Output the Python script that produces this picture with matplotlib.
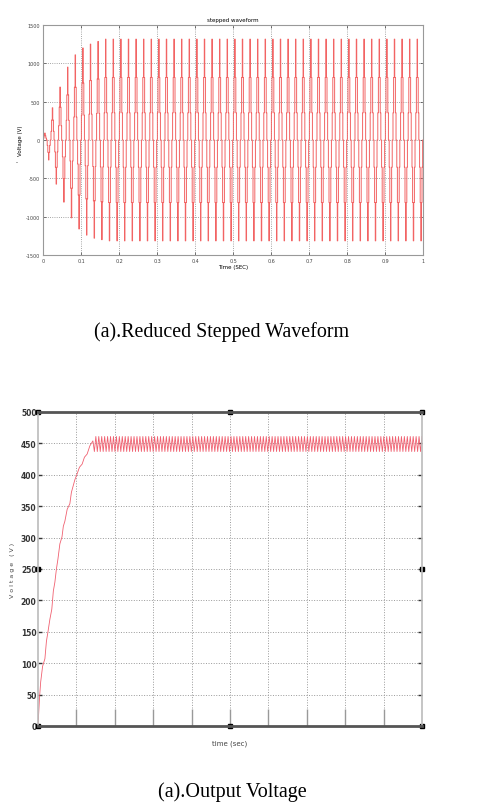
import numpy as np
import matplotlib
matplotlib.use("Agg")
import matplotlib.pyplot as plt

plt.rcParams["axes.unicode_minus"] = False

# ---- data ----
# stepped waveform: 50 Hz, amplitude of every half cycle (V)
FREQ = 50.0
AMP_START = [90, 260, 420, 575, 690, 810, 950, 1015, 1110, 1160,
             1200, 1240, 1250, 1280, 1285, 1300]
AMP_STEADY = 1315
N_HALF = 100
# shape of one half cycle: switching instants (fraction of half period) and levels (fraction of peak)
STEP_TIMES = [0.0, 0.10, 0.26, 0.44, 0.56, 0.74, 0.90]
STEP_LEVELS = [0.0, 0.27, 0.62, 1.0, 0.62, 0.27, 0.0]

top_xticks = [0, 0.1, 0.2, 0.3, 0.4, 0.5, 0.6, 0.7, 0.8, 0.9, 1]
top_xlabels = ["0", "0.1", "0.2", "0.3", "0.4", "0.5", "0.6", "0.7", "0.8", "0.9", "1"]
top_yticks = [-1500, -1000, -500, 0, 500, 1000, 1500]

# output voltage: start-up ramp (time fraction, volts) then ripple
RAMP_T = [0.0, 0.004, 0.007, 0.012, 0.018, 0.022, 0.026, 0.031, 0.036, 0.040, 0.044,
          0.048, 0.052, 0.057, 0.0625, 0.066, 0.070, 0.076, 0.083, 0.087, 0.091,
          0.096, 0.1016, 0.108, 0.115, 0.121, 0.128, 0.135, 0.143]
RAMP_V = [0, 45, 70, 95, 107, 135, 150, 170, 186, 215, 229,
          250, 266, 290, 301, 318, 326, 345, 354, 372, 381,
          392, 401, 412, 417, 428, 433, 446, 454]
RIPPLE_HIGH = 461
RIPPLE_LOW = 437
N_RIPPLE = 112
bot_yticks = [0, 50, 100, 150, 200, 250, 300, 350, 400, 450, 500]
bot_xgrid = [0.1, 0.2, 0.3, 0.4, 0.5, 0.6, 0.7, 0.8, 0.9]

fig = plt.figure(figsize=(4.79, 8.12), dpi=100)

# ---------------- top chart ----------------
ax1 = fig.add_axes([0.0898, 0.6847, 0.7933, 0.2833])
half = 0.5 / FREQ
amps = AMP_START + [AMP_STEADY] * (N_HALF - len(AMP_START))
tt, vv = [], []
for k, a in enumerate(amps):
    sgn = 1 if k % 2 == 0 else -1
    for st, lv in zip(STEP_TIMES, STEP_LEVELS):
        tt.append(k * half + st * half)
        vv.append(sgn * a * lv)
tt.append(N_HALF * half)
vv.append(0)
ax1.step(tt, vv, where="post", color="#f26464", lw=0.7)

ax1.set_xlim(0, 1)
ax1.set_ylim(-1500, 1500)
ax1.set_xticks(top_xticks)
ax1.set_xticklabels(top_xlabels)
ax1.set_yticks(top_yticks)
ax1.tick_params(direction="in", length=2, width=0.5, labelsize=3.5, pad=2,
                top=True, right=True, colors="#444444")
ax1.grid(True, ls=":", lw=0.6, color="#888888")
for s in ax1.spines.values():
    s.set_color("#999999")
    s.set_linewidth(0.8)
ax1.set_title("stepped waveform", fontsize=4, pad=3)
ax1.set_xlabel("Time (SEC)", fontsize=4, labelpad=1)
ax1.set_ylabel("Voltage (V)", fontsize=4, labelpad=2)
fig.text(0.035, 0.8, "-", fontsize=4, ha="center", va="center")

fig.text(0.462, 1 - 332 / 812, "(a).Reduced Stepped Waveform", family="Liberation Serif",
         fontsize=14.4, ha="center", va="center")

# ---------------- bottom chart ----------------
ax2 = fig.add_axes([0.0793, 0.1047, 0.8017, 0.3867])
t_end = RAMP_T[-1]
rt = np.linspace(t_end, 1.0, 2 * N_RIPPLE + 1)
rv = [RIPPLE_HIGH if i % 2 == 0 else RIPPLE_LOW for i in range(len(rt))]
ax2.plot(list(RAMP_T) + list(rt[1:]), list(RAMP_V) + rv[1:], color="#f06070", lw=0.6)

ax2.set_xlim(0, 1)
ax2.set_ylim(0, 500)
ax2.set_yticks(bot_yticks)
ax2.set_xticks(bot_xgrid)
ax2.set_xticklabels([])
ax2.tick_params(axis="y", direction="in", length=3, width=1, labelsize=5.5, pad=1,
                right=True, colors="#333333")
ax2.tick_params(axis="x", direction="in", length=12, width=1, colors="#999999")
ax2.grid(True, ls=":", lw=0.7, color="#999999")
ax2.spines["top"].set_color("#555555")
ax2.spines["top"].set_linewidth(2)
ax2.spines["bottom"].set_color("#555555")
ax2.spines["bottom"].set_linewidth(2)
ax2.spines["left"].set_color("#bbbbbb")
ax2.spines["right"].set_color("#bbbbbb")
ax2.spines["left"].set_linewidth(1.2)
ax2.spines["right"].set_linewidth(1.2)
for lab in ax2.get_yticklabels():
    lab.set_fontweight("bold")
ax2.set_xlabel("time (sec)", fontsize=5, labelpad=6, color="#444444")
ax2.set_ylabel("V o l t a g e   ( V )", fontsize=4.5, labelpad=4, color="#444444")

# selection handles
hx = [0, 0.5, 1, 0, 0.5, 1, 0, 1]
hy = [0, 0, 0, 1, 1, 1, 0.5, 0.5]
ax2.plot(hx, hy, "s", color="black", ms=3, transform=ax2.transAxes, clip_on=False)

fig.text(0.486, 1 - 792 / 812, "(a).Output Voltage", family="Liberation Serif",
         fontsize=14.5, ha="center", va="center")

fig.savefig("out.png", dpi=100)
